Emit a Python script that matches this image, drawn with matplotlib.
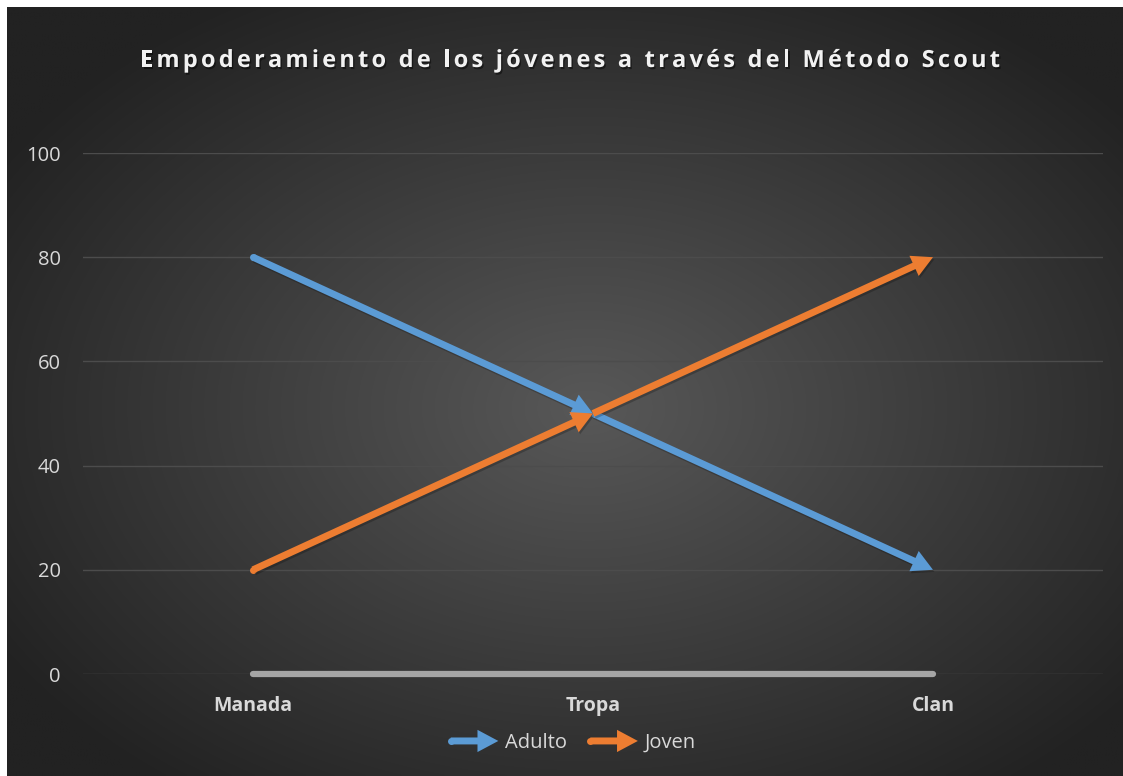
import numpy as np
import matplotlib
matplotlib.use('Agg')
import matplotlib.pyplot as plt
from matplotlib.patches import FancyArrowPatch
from matplotlib.lines import Line2D
from matplotlib.legend_handler import HandlerBase
from matplotlib import patheffects as pe
from matplotlib.transforms import ScaledTranslation
from matplotlib.font_manager import FontProperties, findfont
from matplotlib.ft2font import FT2Font

# ---------------- data ----------------
categories = ['Manada', 'Tropa', 'Clan']
adulto = [80, 50, 20]
joven = [20, 50, 80]
serie3 = [0, 0, 0]
yticks = [0, 20, 40, 60, 80, 100]
series_names = ['Adulto', 'Joven']
title = 'Empoderamiento de los jóvenes a través del Método Scout'

plt.rcParams['font.family'] = ['Open Sans', 'DejaVu Sans']

BLUE = '#5B9BD5'
ORANGE = '#ED7D31'
GREY = '#A5A5A5'
TXT = '#D9D9D9'

W, H = 1123, 776
fig = plt.figure(figsize=(W / 100, H / 100), dpi=100)
fig.patch.set_facecolor('white')

# ---------------- radial gradient background ----------------
bg = fig.add_axes([7 / W, 0, 1 - 7 / W, 1 - 7 / H], zorder=-10)
ny, nx = 300, 430
yy, xx = np.mgrid[0:ny, 0:nx]
cx, cy = nx * 0.52, ny * 0.52
r = np.sqrt(((xx - cx) / nx) ** 2 + ((yy - cy) / ny) ** 2)
r = np.clip(r / 0.62, 0, 1)
c0 = np.array([0x58, 0x58, 0x58]) / 255
c1 = np.array([0x22, 0x22, 0x22]) / 255
img = c0[None, None, :] * (1 - r[..., None]) + c1[None, None, :] * r[..., None]
bg.imshow(img, aspect='auto', extent=[0, 1, 0, 1], interpolation='bilinear')
bg.axis('off')

# ---------------- main axes ----------------
ax = fig.add_axes([83 / W, (H - 674) / H, (1103 - 83) / W, (674 - 153) / H])
ax.set_facecolor('none')
x = np.arange(len(categories))
ax.set_xlim(-0.5, len(categories) - 0.5)
ax.set_ylim(0, 100)
ax.set_yticks(yticks)
ax.set_yticklabels([str(v) for v in yticks])
ax.set_xticks(x)
ax.set_xticklabels(categories, fontweight='bold')
for s in ax.spines.values():
    s.set_visible(False)
ax.tick_params(axis='y', length=0, pad=16, labelsize=14.5, labelcolor=TXT)
ax.tick_params(axis='x', length=0, pad=16, labelsize=14, labelcolor=TXT)
ax.grid(axis='y', color='#4c4c4c', lw=1.0)
ax.set_axisbelow(True)

shadow = [pe.SimplePatchShadow(offset=(1, -1.5), shadow_rgbFace='black', alpha=0.22), pe.Normal()]

# grey series at zero
ax.plot(x, serie3, color=GREY, lw=4.5, solid_capstyle='round', zorder=3, clip_on=False,
        label='_nolegend_')

ARROW = 'simple,head_length=15,head_width=16,tail_width=5'


def draw_series(vals, color, z):
    ax.plot([x[0]], [vals[0]], 'o', ms=5, color=color, zorder=z, mec='none')
    for i in range(len(vals) - 1):
        p = FancyArrowPatch((x[i], vals[i]), (x[i + 1], vals[i + 1]), arrowstyle=ARROW,
                            mutation_scale=1, color=color, lw=0, shrinkA=0, shrinkB=0,
                            zorder=z, path_effects=shadow)
        ax.add_patch(p)


draw_series(adulto, BLUE, 4)
draw_series(joven, ORANGE, 5)


# ---------------- legend ----------------
class HandlerArrow(HandlerBase):
    def create_artists(self, legend, orig_handle, xdescent, ydescent, width, height,
                       fontsize, trans):
        y = height / 2 - ydescent
        x0 = -xdescent
        p = FancyArrowPatch((x0 + 2, y), (x0 + width, y), arrowstyle=ARROW, mutation_scale=1,
                            color=orig_handle.get_color(), lw=0, shrinkA=0, shrinkB=0,
                            transform=trans)
        c = Line2D([x0 + 2], [y], marker='o', ms=5, color=orig_handle.get_color(),
                   mec='none', transform=trans)
        return [c, p]


handles = [Line2D([], [], color=BLUE), Line2D([], [], color=ORANGE)]
leg = fig.legend(handles, series_names, loc='center', bbox_to_anchor=(572 / W, 1 - 743 / H),
                 ncol=2, frameon=False, fontsize=14.5, handlelength=2.5, handletextpad=0.35,
                 columnspacing=1.0, handler_map={Line2D: HandlerArrow()})
for t in leg.get_texts():
    t.set_color(TXT)

# ---------------- letter-spaced title ----------------
tsize = 17
fpath = findfont(FontProperties(family='Open Sans', weight='bold'))
ft = FT2Font(fpath)
ft.set_size(tsize, 72)
advs = []
for ch in title:
    g = ft.load_char(ord(ch))
    advs.append(g.linearHoriAdvance / 65536.0)
target_pt = 860 * 72 / 100
spacing = (target_pt - sum(advs)) / (len(title) - 1)
start_px = 570 - 430
base_y = 1 - 67 / H
tshadow = [pe.SimplePatchShadow(offset=(1, -1.5), shadow_rgbFace='black', alpha=0.45), pe.Normal()]
off = 0.0
for ch, a in zip(title, advs):
    if ch != ' ':
        tr = fig.transFigure + ScaledTranslation(off / 72, 0, fig.dpi_scale_trans)
        fig.text(start_px / W, base_y, ch, transform=tr, ha='left', va='baseline',
                 fontsize=tsize, fontweight='bold', color='#F2F2F2', path_effects=tshadow)
    off += a + spacing

fig.savefig('out.png', dpi=100)
